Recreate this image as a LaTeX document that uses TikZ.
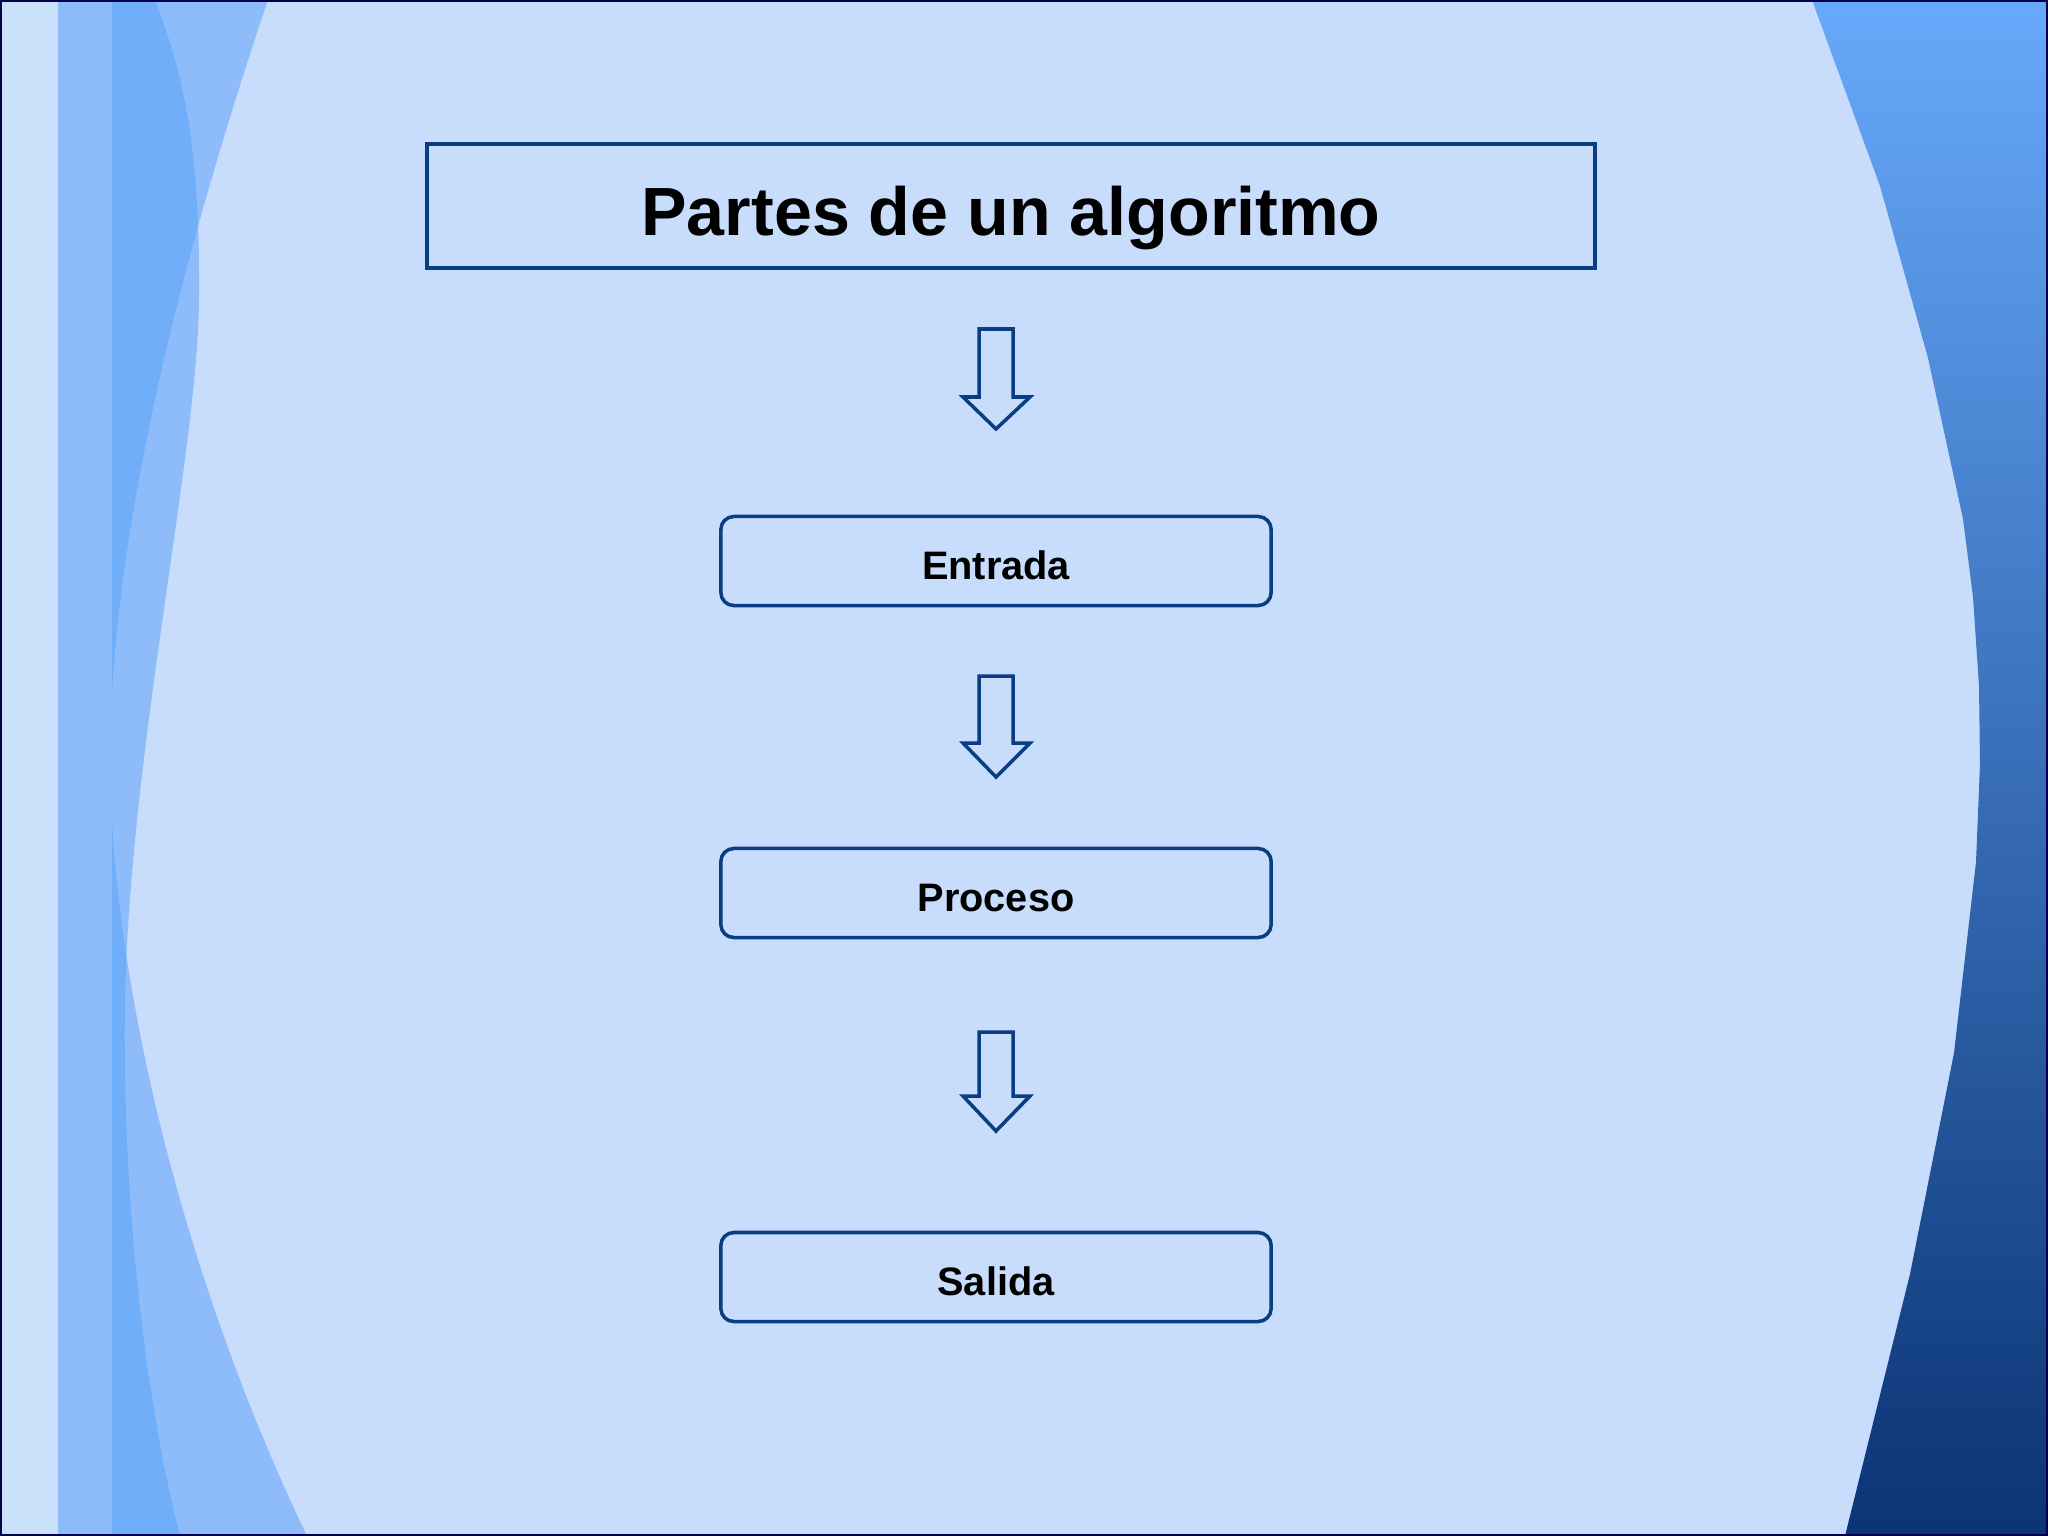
\documentclass[tikz,border=0pt]{standalone}
\usepackage{fontspec}
\setmainfont{Liberation Sans}
\definecolor{fondo}{HTML}{C7DDFB}
\definecolor{franja}{HTML}{C9E0FA}
\definecolor{azulmedio}{HTML}{8EBCFB}
\definecolor{azulfuerte}{HTML}{71AEFA}
\definecolor{borde}{HTML}{0B3D82}
\definecolor{degradearriba}{HTML}{67A9FA}
\definecolor{degradeabajo}{HTML}{0A3475}
\tikzset{
    titulo/.style={draw=borde, line width=1pt, fill=fondo, minimum width=11.67cm, minimum height=1.24cm, inner sep=0pt, text height=0.58cm, text depth=0cm, font=\fontsize{19.4}{23}\selectfont\bfseries},
    caja/.style={draw=borde, line width=1pt, fill=fondo, rounded corners=0.13cm, minimum width=5.5cm, minimum height=0.89cm, inner sep=0pt, text height=0.37cm, text depth=0cm, font=\fontsize{11.3}{13}\selectfont\bfseries},
    flecha/.style={draw=borde, line width=1pt, fill=fondo, line join=miter}
}
\newcommand{\curvauno}{(268, 0) .. controls (180, 260) and (110, 540) .. (110, 760) .. controls (110, 950) and (170, 1250) .. (307, 1536)}
\newcommand{\curvados}{(155, 0) .. controls (190, 90) and (200, 170) .. (199, 300) .. controls (198, 450) and (130, 750) .. (125, 1000) .. controls (122, 1200) and (145, 1400) .. (180, 1536)}
\begin{document}
\begin{tikzpicture}[x=0.01cm, y=-0.01cm]
        \useasboundingbox (0, 0) rectangle (2048, 1536);
        \fill[fondo] (0, 0) rectangle (2048, 1536);
        % franjas de la izquierda
        \fill[franja] (0, 0) rectangle (58, 1536);
        \fill[azulmedio] (58, 0) rectangle (112, 1536);
        \fill[azulmedio] (112, 0) -- \curvauno -- (112, 1536) -- cycle;
        \fill[azulmedio] (112, 0) -- \curvados -- (112, 1536) -- cycle;
        \begin{scope}
            \clip (112, 0) -- \curvauno -- (112, 1536) -- cycle;
            \fill[azulfuerte] (112, 0) -- \curvados -- (112, 1536) -- cycle;
        \end{scope}
        % banda de la derecha
        \shade[top color=degradearriba, bottom color=degradeabajo] (1812, 0) -- (1880, 186) -- (1928, 358) -- (1963, 519) -- (1973, 597) -- (1979, 686) -- (1980, 764) -- (1976, 862) -- (1954, 1053) -- (1910, 1274) -- (1845, 1536) -- (2048, 1536) -- (2048, 0) -- cycle;
        \draw[line width=0.6pt, black!70!blue] (1, 1) rectangle (2047, 1535);
        % diagrama
        \node[titulo] (titulo) at (1011, 206) {Partes de un algoritmo};
        \node[caja] (entrada) at (996, 561) {Entrada};
        \node[caja] (proceso) at (996, 893) {Proceso};
        \node[caja] (salida) at (996, 1277) {Salida};
        \foreach \ya/\yb/\yc in {329/397/429, 676/743/777, 1032/1096/1131}
            \draw[flecha] (979, \ya) -- (1013, \ya) -- (1013, \yb) -- (1030, \yb) -- (996, \yc) -- (963, \yb) -- (979, \yb) -- cycle;
\end{tikzpicture}
\end{document}
